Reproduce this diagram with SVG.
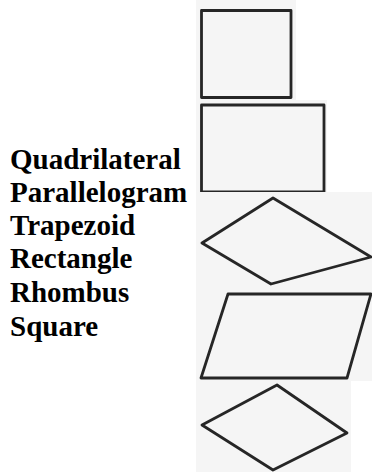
<svg xmlns="http://www.w3.org/2000/svg" width="372" height="472" viewBox="0 0 372 472">
  <style>
    .bg { fill: #f5f5f5; stroke: none; }
    .shape { fill: none; stroke: #262626; stroke-width: 2.8; stroke-linejoin: round; }
    .label { font-family: "Liberation Serif", "Times New Roman", serif; font-weight: bold; font-size: 29px; fill: #000; }
  </style>
  <rect x="0" y="0" width="372" height="472" fill="#ffffff"/>
  <g id="labels">
    <text class="label" x="10" y="169">Quadrilateral</text>
    <text class="label" x="10" y="202">Parallelogram</text>
    <text class="label" x="10" y="235">Trapezoid</text>
    <text class="label" x="10" y="268">Rectangle</text>
    <text class="label" x="10" y="302">Rhombus</text>
    <text class="label" x="10" y="336">Square</text>
  </g>
  <g id="square-figure">
    <rect class="bg" x="196" y="0" width="100" height="100"/>
    <rect class="shape" x="201.5" y="10.5" width="89.5" height="87"/>
  </g>
  <g id="rectangle-figure">
    <rect class="bg" x="196" y="100" width="131" height="93"/>
    <rect class="shape" x="201.5" y="105" width="122.5" height="87"/>
  </g>
  <g id="kite-figure">
    <rect class="bg" x="196" y="192" width="176" height="97"/>
    <polygon class="shape" points="273,198 202,243 271,284 371,257"/>
  </g>
  <g id="parallelogram-figure">
    <rect class="bg" x="196" y="289" width="176" height="92"/>
    <polygon class="shape" points="228,294 371,294 347,378 201,378"/>
  </g>
  <g id="rhombus-figure">
    <rect class="bg" x="196" y="381" width="155" height="91"/>
    <polygon class="shape" points="277,385 202,425 273,470 347,433"/>
  </g>
</svg>
